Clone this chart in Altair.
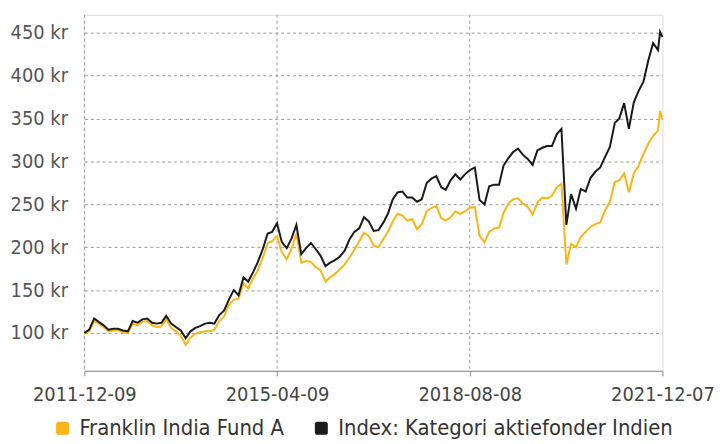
import altair as alt
import pandas as pd

FONT = "DejaVu Sans Condensed, Liberation Sans Narrow, Roboto, sans-serif"

fund_name = "Franklin India Fund A"
index_name = "Index: Kategori aktiefonder Indien"

# sampling dates: monthly from 2011-12-09, plus two late points
dates = [f"{2011 + (11 + m) // 12}-{(11 + m) % 12 + 1:02d}-09" for m in range(120)] + ["2021-11-22", "2021-12-07"]

index_values = [
    100, 104, 117, 113, 109, 104, 105, 105, 103, 102,
    114, 112, 116, 117, 112, 111, 112, 120, 111, 107,
    103, 94, 102, 106, 108, 111, 112, 111, 121, 126,
    139, 150, 144, 165, 160, 171, 183, 198, 216, 218,
    228, 206, 199, 210, 226, 192, 199, 205, 198, 190,
    178, 182, 185, 189, 196, 209, 218, 222, 235, 230,
    219, 220, 229, 239, 256, 264, 265, 258, 258, 253,
    256, 275, 280, 283, 270, 267, 278, 285, 279, 285,
    290, 293, 255, 250, 271, 273, 273, 295, 304, 311,
    315, 308, 303, 296, 313, 316, 318, 318, 332, 338,
    226, 262, 245, 268, 265, 281, 288, 293, 305, 317,
    345, 350, 368, 338, 369, 382, 393, 418, 438, 430,
    451, 445,
]

fund_values = [
    99, 102, 114, 111, 107, 102, 103, 103, 101, 100,
    111, 109, 113, 114, 109, 107, 108, 116, 106, 102,
    97, 86, 95, 99, 101, 102, 102, 104, 114, 119,
    133, 139, 140, 158, 152, 164, 173, 188, 205, 207,
    213, 194, 186, 198, 216, 182, 184, 183, 177, 173,
    160, 165, 169, 174, 180, 188, 197, 207, 217, 213,
    202, 200, 210, 218, 230, 239, 237, 231, 233, 221,
    227, 242, 246, 248, 234, 231, 235, 242, 239, 242,
    246, 247, 213, 206, 218, 222, 223, 240, 251, 256,
    257, 251, 247, 238, 252, 258, 257, 260, 270, 274,
    180, 204, 200, 212, 218, 224, 227, 229, 243, 253,
    276, 278, 286, 264, 286, 295, 309, 321, 330, 336,
    359, 349,
]

tick_dates = ["2011-12-09", "2015-04-09", "2018-08-08", "2021-12-07"]
y_ticks = [100, 150, 200, 250, 300, 350, 400, 450]
series_names = [fund_name, index_name]
series_colors = ["#FDB515", "#1A1A1A"]

rows = []
for name, vals in [(fund_name, fund_values), (index_name, index_values)]:
    for d, v in zip(dates, vals):
        rows.append({"date": d, "value": v, "series": name})
df = pd.DataFrame(rows)

grid_df = pd.DataFrame({"date": tick_dates[:3]})


def dt(s):
    y, m, d = (int(p) for p in s.split("-"))
    return alt.DateTime(year=y, month=m, date=d, utc=True)


x_scale = alt.Scale(type="utc", domain=[dt(tick_dates[0]), dt(tick_dates[-1])], nice=False)
y_scale = alt.Scale(domain=[56, 471], nice=False, zero=False)
color_scale = alt.Scale(domain=series_names, range=series_colors)

x_axis = alt.Axis(
    values=[dt(s) for s in tick_dates],
    labelExpr="utcFormat(datum.value, '%Y-%m-%d')",
    grid=False,
    domainColor="#888888",
    tickColor="#888888",
    tickSize=5,
    labelFlush=False,
    labelPadding=9,
    labelFont=FONT,
    labelFontSize=20,
    labelColor="#444444",
    title=None,
)
y_axis = alt.Axis(
    values=y_ticks,
    labelExpr="datum.value + ' kr'",
    grid=True,
    gridDash=[3, 3],
    gridColor="#999999",
    domain=False,
    ticks=False,
    labelPadding=17,
    labelFont=FONT,
    labelFontSize=20,
    labelColor="#555555",
    title=None,
)

vgrid = alt.Chart(grid_df).mark_rule(color="#999999", strokeDash=[3, 3], strokeWidth=1).encode(
    x=alt.X("date:T", scale=x_scale, axis=x_axis)
)

lines = alt.Chart(df).mark_line(strokeWidth=2).encode(
    x=alt.X("date:T", scale=x_scale, axis=x_axis),
    y=alt.Y("value:Q", scale=y_scale, axis=y_axis),
    color=alt.Color("series:N", scale=color_scale, legend=None),
    order=alt.Order("date:T"),
)

rounded_square = "M-1,-0.6 Q-1,-1 -0.6,-1 L0.6,-1 Q1,-1 1,-0.6 L1,0.6 Q1,1 0.6,1 L-0.6,1 Q-1,1 -1,0.6 Z"

legend_layer = alt.Chart(df).mark_square(opacity=0, size=1).encode(
    x=alt.X("date:T", scale=x_scale, axis=x_axis),
    y=alt.Y("value:Q", scale=y_scale, axis=y_axis),
    color=alt.Color(
        "series:N",
        scale=color_scale,
        legend=alt.Legend(
            orient="none",
            legendX=-33,
            legendY=406,
            direction="horizontal",
            title=None,
            symbolType=rounded_square,
            symbolSize=170,
            symbolOpacity=1,
            symbolStrokeWidth=0,
            labelFont=FONT,
            labelFontSize=22,
            labelColor="#333333",
            labelOffset=6,
            labelLimit=500,
            columnPadding=26,
            padding=0,
        ),
    ),
)

chart = (
    alt.layer(vgrid, lines, legend_layer)
    .resolve_legend(color="independent")
    .properties(
        width=583,
        height=359,
        padding={"left": 77, "top": 5, "right": 54, "bottom": 76},
        autosize=alt.AutoSizeParams(type="none"),
    )
    .configure_view(stroke=None)
    .configure(background="white")
)

chart.save("out.html", embed_options={"renderer": "svg", "actions": False})
